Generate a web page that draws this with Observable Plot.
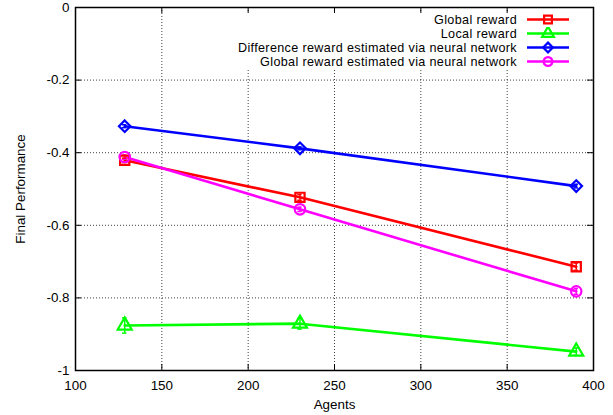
<!DOCTYPE html>
<html>
<head>
<meta charset="utf-8">
<script src="https://cdn.jsdelivr.net/npm/d3@7"></script>
<script src="https://cdn.jsdelivr.net/npm/@observablehq/plot@0.6"></script>
<style>
  html, body { margin: 0; padding: 0; background: #fff; }
  #wrap { position: relative; width: 613px; height: 415px; font-family: "Liberation Sans", Arial, sans-serif; }
  #legend { position: absolute; left: 234px; top: 12.5px; width: 346px; background: #fff; font-size: 12.6px; letter-spacing: 0.35px; }
  .row { display: flex; align-items: center; justify-content: flex-end; height: 14.1px; }
  .row span { white-space: nowrap; line-height: 14.1px; }
  .row svg { margin-left: 10px; margin-right: 11px; display: block; }
</style>
</head>
<body>
<div id="wrap"><div id="legend"></div></div>
<script>
const agents = [128.5, 230, 390];
const seriesNames = [
  "Global reward",
  "Local reward",
  "Difference reward estimated via neural network",
  "Global reward estimated via neural network"
];
const globalReward = [-0.421, -0.523, -0.714];
const localReward = [-0.876, -0.871, -0.948];
const diffRewardNN = [-0.327, -0.388, -0.492];
const globalRewardNN = [-0.412, -0.556, -0.782];
const globalRewardErr = [0.006, 0.008, 0.01];
const localRewardErr = [0.021, 0.015, 0.01];
const diffRewardNNErr = [0.004, 0.004, 0.005];
const globalRewardNNErr = [0.006, 0.006, 0.008];
const seriesColors = ["#ff0000", "#00ff00", "#0000ff", "#ff00ff"];
const seriesSymbols = ["square", "triangle", "diamond2", "circle"];
const xTicks = [100, 150, 200, 250, 300, 350, 400];
const yTicks = [-1, -0.8, -0.6, -0.4, -0.2, 0];

const seriesValues = [globalReward, localReward, diffRewardNN, globalRewardNN];
const seriesErrs = [globalRewardErr, localRewardErr, diffRewardNNErr, globalRewardNNErr];
const data = [];
seriesNames.forEach((name, i) => {
  agents.forEach((a, j) => {
    data.push({series: name, x: a, y: seriesValues[i][j], e: seriesErrs[i][j]});
  });
});

const W = 613, H = 415, mL = 75, mR = 20, mT = 7, mB = 45;
const xDom = [100, 400], yDom = [-1, 0];
const tx = 6 * (xDom[1] - xDom[0]) / (W - mL - mR);
const ty = 6 * (yDom[1] - yDom[0]) / (H - mT - mB);
const capX = 2.2 * (xDom[1] - xDom[0]) / (W - mL - mR);

const grid = {stroke: "#000", strokeOpacity: 0.75, strokeWidth: 1, strokeDasharray: "1,2"};
const tickStyle = {stroke: "#000", strokeWidth: 1};

const chart = Plot.plot({
  width: W, height: H,
  marginLeft: mL, marginRight: mR, marginTop: mT, marginBottom: mB,
  style: {fontFamily: "Liberation Sans, Arial, sans-serif", fontSize: "13.4px", color: "#000", background: "#fff"},
  x: {domain: xDom},
  y: {domain: yDom},
  color: {domain: seriesNames, range: seriesColors},
  symbol: {domain: seriesNames, range: seriesSymbols},
  marks: [
    Plot.ruleX(xTicks.slice(1, -1), {x: d => d, ...grid}),
    Plot.ruleY(yTicks.slice(1, -1), {y: d => d, ...grid}),
    Plot.ruleX(xTicks.slice(1, -1), {x: d => d, y1: yDom[0], y2: yDom[0] + ty, ...tickStyle}),
    Plot.ruleX(xTicks.slice(1, -1), {x: d => d, y1: yDom[1], y2: yDom[1] - ty, ...tickStyle}),
    Plot.ruleY(yTicks.slice(1, -1), {y: d => d, x1: xDom[0], x2: xDom[0] + tx, ...tickStyle}),
    Plot.ruleY(yTicks.slice(1, -1), {y: d => d, x1: xDom[1], x2: xDom[1] - tx, ...tickStyle}),
    Plot.line(data, {x: "x", y: "y", z: "series", stroke: "series", strokeWidth: 2.6}),
    Plot.ruleX(data, {x: "x", y1: d => d.y - d.e, y2: d => d.y + d.e, stroke: "series", strokeWidth: 1.5}),
    Plot.ruleY(data, {y: d => d.y - d.e, x1: d => d.x - capX, x2: d => d.x + capX, stroke: "series", strokeWidth: 1.5}),
    Plot.ruleY(data, {y: d => d.y + d.e, x1: d => d.x - capX, x2: d => d.x + capX, stroke: "series", strokeWidth: 1.5}),
    Plot.dot(data, {x: "x", y: "y", symbol: "series", stroke: "series", fill: "none", r: 5.2, strokeWidth: 2.2}),
    Plot.frame({stroke: "#000", strokeWidth: 1.5}),
    Plot.axisX({ticks: xTicks, tickSize: 0, tickPadding: 10, tickFormat: d => String(d), label: "Agents", labelAnchor: "center", labelArrow: "none", labelOffset: 38}),
    Plot.axisY({ticks: yTicks, tickSize: 0, tickPadding: 6, tickFormat: d => String(d), label: "Final Performance", labelAnchor: "center", labelArrow: "none", labelOffset: 60})
  ]
});
const wrap = document.getElementById("wrap");
wrap.insertBefore(chart, wrap.firstChild);

// legend (opaque key like gnuplot)
const legend = d3.select("#legend");
const symMap = {square: d3.symbolSquare, triangle: d3.symbolTriangle, diamond2: d3.symbolDiamond2, circle: d3.symbolCircle};
seriesNames.forEach((name, i) => {
  const row = legend.append("div").attr("class", "row");
  row.append("span").text(name);
  const svg = row.append("svg").attr("width", 42).attr("height", 13);
  svg.append("line").attr("x1", 0).attr("x2", 42).attr("y1", 6.5).attr("y2", 6.5)
    .attr("stroke", seriesColors[i]).attr("stroke-width", 2.6);
  svg.append("path").attr("transform", "translate(21,6.5)")
    .attr("d", d3.symbol(symMap[seriesSymbols[i]], 4.4 * 4.4 * Math.PI)())
    .attr("fill", "none").attr("stroke", seriesColors[i]).attr("stroke-width", 2.2);
});
</script>
</body>
</html>
